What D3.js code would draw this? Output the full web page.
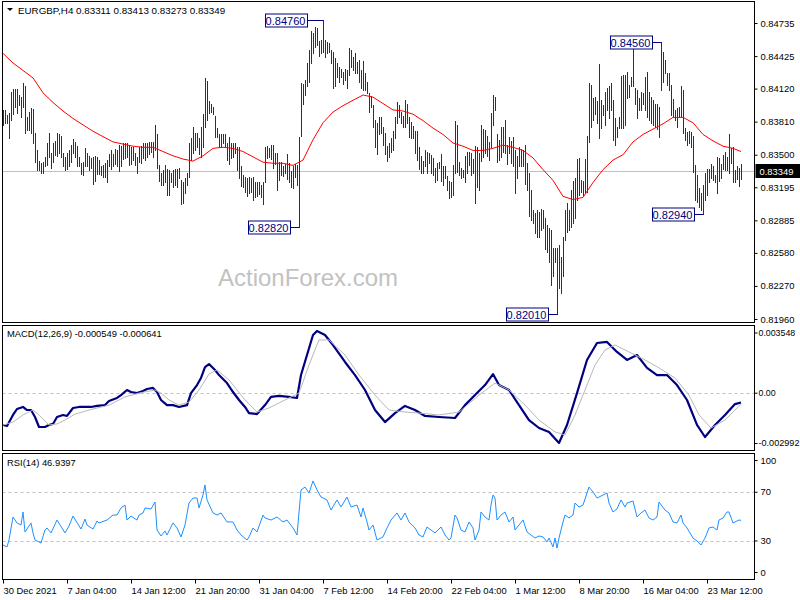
<!DOCTYPE html>
<html><head><meta charset="utf-8">
<script src="https://cdn.jsdelivr.net/npm/d3@7"></script>
<style>
body{margin:0;background:#fff;}
svg{display:block;}
text{font-family:"Liberation Sans",Arial,sans-serif;}
</style>
</head><body>
<svg id="c" width="800" height="600"></svg>
<script>
// ---------------- DATA ----------------
const symbol = "EURGBP,H4";
const lastOHLC = [0.83311, 0.83413, 0.83273, 0.83349];

const highs = [
0.8392,0.8392,0.8387,0.8389,0.8409,0.8412,0.8412,0.8412,0.8406,0.8404,
0.8417,0.8414,0.8385,0.8390,0.8394,0.8393,0.8370,0.8354,0.8344,0.8342,
0.8343,0.8348,0.8361,0.8370,0.8352,0.8361,0.8363,0.8370,0.8369,0.8368,
0.8352,0.8348,0.8352,0.8354,0.8359,0.8365,0.8362,0.8358,0.8348,0.8342,
0.8343,0.8356,0.8352,0.8349,0.8347,0.8348,0.8349,0.8348,0.8345,0.8339,
0.8340,0.8342,0.8345,0.8351,0.8354,0.8351,0.8355,0.8354,0.8359,0.8358,
0.8361,0.8361,0.8361,0.8359,0.8357,0.8357,0.8352,0.8348,0.8357,0.8358,
0.8361,0.8361,0.8361,0.8362,0.8362,0.8362,0.8378,0.8369,0.8340,0.8333,
0.8336,0.8340,0.8337,0.8336,0.8333,0.8336,0.8337,0.8337,0.8338,0.8326,
0.8324,0.8328,0.8333,0.8361,0.8366,0.8376,0.8370,0.8370,0.8366,0.8376,
0.8388,0.8422,0.8419,0.8400,0.8398,0.8395,0.8386,0.8375,0.8369,0.8369,
0.8369,0.8369,0.8361,0.8367,0.8361,0.8361,0.8361,0.8357,0.8357,0.8339,
0.8331,0.8329,0.8328,0.8329,0.8328,0.8329,0.8324,0.8324,0.8324,0.8322,
0.8324,0.8357,0.8358,0.8356,0.8359,0.8359,0.8352,0.8352,0.8343,0.8343,
0.8339,0.8341,0.8351,0.8342,0.8335,0.8339,0.8341,0.8340,0.8367,0.8417,
0.8416,0.8420,0.8436,0.8448,0.8466,0.8464,0.8470,0.8469,0.8457,0.8458,
0.8476,0.8458,0.8456,0.8455,0.8448,0.8446,0.8441,0.8436,0.8432,0.8430,
0.8428,0.8430,0.8429,0.8450,0.8448,0.8442,0.8445,0.8437,0.8439,0.8429,
0.8438,0.8427,0.8418,0.8408,0.8405,0.8397,0.8383,0.8380,0.8385,0.8385,
0.8376,0.8370,0.8358,0.8361,0.8366,0.8372,0.8385,0.8399,0.8397,0.8390,
0.8386,0.8401,0.8398,0.8385,0.8381,0.8377,0.8372,0.8372,0.8357,0.8349,
0.8344,0.8354,0.8353,0.8352,0.8350,0.8347,0.8338,0.8342,0.8343,0.8351,
0.8339,0.8339,0.8330,0.8325,0.8324,0.8340,0.8382,0.8378,0.8343,0.8338,
0.8336,0.8349,0.8353,0.8353,0.8352,0.8346,0.8358,0.8357,0.8352,0.8378,
0.8374,0.8373,0.8368,0.8362,0.8389,0.8406,0.8404,0.8369,0.8364,0.8376,
0.8376,0.8383,0.8359,0.8367,0.8363,0.8367,0.8354,0.8349,0.8357,0.8355,
0.8354,0.8359,0.8342,0.8333,0.8317,0.8298,0.8295,0.8298,0.8296,0.8299,
0.8298,0.8291,0.8284,0.8281,0.8279,0.8263,0.8263,0.8263,0.8265,0.8254,
0.8273,0.8298,0.8305,0.8298,0.8317,0.8325,0.8328,0.8346,0.8347,0.8326,
0.8325,0.8346,0.8368,0.8417,0.8415,0.8403,0.8404,0.8400,0.8435,0.8401,
0.8397,0.8409,0.8413,0.8414,0.8417,0.8401,0.8384,0.8376,0.8385,0.8424,
0.8425,0.8425,0.8428,0.8415,0.8423,0.8455,0.8413,0.8411,0.8403,0.8409,
0.8408,0.8423,0.8428,0.8409,0.8404,0.8401,0.8398,0.8398,0.8395,0.8456,
0.8446,0.8439,0.8427,0.8427,0.8415,0.8402,0.8392,0.8394,0.8395,0.8414,
0.8411,0.8375,0.8371,0.8372,0.8371,0.8368,0.8340,0.8331,0.8319,0.8314,
0.8322,0.8333,0.8337,0.8337,0.8341,0.8339,0.8331,0.8348,0.8347,0.8341,
0.8350,0.8353,0.8348,0.8369,0.8356,0.8357,0.8336,0.8339,0.8338,0.83413
];
const lows = [
0.8378,0.8380,0.8380,0.8366,0.8383,0.8388,0.8395,0.8389,0.8397,0.8385,
0.8395,0.8370,0.8373,0.8373,0.8370,0.8361,0.8343,0.8336,0.8336,0.8333,
0.8333,0.8339,0.8340,0.8348,0.8338,0.8343,0.8350,0.8349,0.8352,0.8348,
0.8339,0.8336,0.8337,0.8339,0.8343,0.8352,0.8348,0.8339,0.8339,0.8332,
0.8331,0.8339,0.8339,0.8336,0.8338,0.8323,0.8325,0.8332,0.8332,0.8331,
0.8329,0.8329,0.8324,0.8339,0.8337,0.8339,0.8341,0.8339,0.8335,0.8339,
0.8346,0.8347,0.8348,0.8340,0.8341,0.8345,0.8340,0.8333,0.8343,0.8342,
0.8347,0.8345,0.8348,0.8351,0.8353,0.8348,0.8354,0.8338,0.8325,0.8322,
0.8322,0.8324,0.8312,0.8312,0.8324,0.8320,0.8322,0.8320,0.8328,0.8304,
0.8305,0.8314,0.8322,0.8329,0.8345,0.8352,0.8354,0.8357,0.8351,0.8348,
0.8357,0.8376,0.8383,0.8389,0.8390,0.8388,0.8367,0.8367,0.8357,0.8357,
0.8361,0.8357,0.8345,0.8341,0.8347,0.8348,0.8352,0.8336,0.8328,0.8321,
0.8320,0.8315,0.8311,0.8314,0.8315,0.8308,0.8310,0.8311,0.8313,0.8310,
0.8304,0.8324,0.8347,0.8348,0.8346,0.8338,0.8341,0.8317,0.8326,0.8331,
0.8330,0.8333,0.8327,0.8324,0.8320,0.8319,0.8329,0.8322,0.8282,0.8368,
0.8398,0.8406,0.8414,0.8418,0.8436,0.8445,0.8451,0.8453,0.8443,0.8445,
0.8446,0.8442,0.8445,0.8446,0.8436,0.8413,0.8414,0.8423,0.8418,0.8423,
0.8416,0.8420,0.8413,0.8425,0.8432,0.8429,0.8427,0.8427,0.8418,0.8413,
0.8411,0.8411,0.8408,0.8390,0.8395,0.8376,0.8357,0.8351,0.8369,0.8370,
0.8359,0.8351,0.8344,0.8348,0.8353,0.8354,0.8366,0.8380,0.8385,0.8380,
0.8376,0.8376,0.8380,0.8367,0.8366,0.8366,0.8352,0.8345,0.8337,0.8333,
0.8333,0.8339,0.8333,0.8342,0.8333,0.8331,0.8324,0.8326,0.8338,0.8325,
0.8322,0.8328,0.8317,0.8309,0.8310,0.8312,0.8333,0.8334,0.8331,0.8328,
0.8329,0.8324,0.8333,0.8340,0.8331,0.8333,0.8305,0.8320,0.8317,0.8344,
0.8348,0.8352,0.8349,0.8345,0.8357,0.8378,0.8392,0.8343,0.8345,0.8348,
0.8353,0.8352,0.8341,0.8352,0.8342,0.8339,0.8314,0.8328,0.8339,0.8339,
0.8339,0.8323,0.8317,0.8293,0.8289,0.8286,0.8277,0.8273,0.8273,0.8279,
0.8281,0.8262,0.8259,0.8249,0.8228,0.8236,0.8249,0.8201,0.8225,0.8220,
0.8236,0.8270,0.8278,0.8279,0.8282,0.8286,0.8291,0.8308,0.8312,0.8315,
0.8312,0.8314,0.8315,0.8362,0.8376,0.8383,0.8388,0.8380,0.8366,0.8375,
0.8387,0.8378,0.8392,0.8384,0.8392,0.8364,0.8359,0.8367,0.8375,0.8375,
0.8375,0.8378,0.8403,0.8404,0.8414,0.8414,0.8398,0.8384,0.8392,0.8392,
0.8398,0.8392,0.8385,0.8383,0.8380,0.8378,0.8376,0.8374,0.8367,0.8411,
0.8418,0.8427,0.8415,0.8411,0.8387,0.8385,0.8383,0.8376,0.8385,0.8386,
0.8370,0.8364,0.8359,0.8361,0.8357,0.8334,0.8308,0.8306,0.8301,0.8298,
0.8294,0.8308,0.8312,0.8324,0.8328,0.8326,0.8324,0.8314,0.8325,0.8328,
0.8337,0.8336,0.8336,0.8333,0.8342,0.8324,0.8324,0.8327,0.8321,0.83273
];

const maBars = [0,5,10,15,20,25,30,35,40,45,50,55,60,65,70,75,80,85,90,95,100,105,110,115,120,125,130,135,140,145,150,155,160,165,170,175,180,185,190,195,200,205,210,215,220,225,230,235,240,245,250,255,260,265,270,275,280,285,290,295,300,305,310,315,320,325,330,335,340,345,350,355,360,365,369];
const maValues = [0.8445,0.8436,0.8429,0.8422,0.8408,0.8399,0.8391,0.8384,0.8378,0.8372,0.8367,0.8362,0.8360,0.8358,0.8357,0.8357,0.8353,0.8349,0.8346,0.8344,0.8349,0.8356,0.8357,0.8356,0.8353,0.8348,0.8343,0.8342,0.8342,0.8340,0.8345,0.8364,0.8380,0.8390,0.8396,0.8401,0.8406,0.8404,0.8398,0.8392,0.8391,0.8388,0.8382,0.8375,0.8369,0.8361,0.8358,0.8354,0.8354,0.8356,0.8359,0.8357,0.8354,0.8347,0.8336,0.8326,0.8311,0.8308,0.8310,0.8324,0.8336,0.8345,0.8350,0.8362,0.8369,0.8374,0.8379,0.8385,0.8385,0.8380,0.8369,0.8363,0.8358,0.8356,0.8353];

const macdBars = [0,2,5,7,10,12,14,16,18,21,23,25,27,30,32,35,38,42,44,47,51,53,57,59,62,64,67,70,72,75,77,79,82,85,88,92,94,97,99,101,103,106,108,112,115,118,121,123,127,131,134,138,143,147,149,152,155,157,161,165,171,176,181,186,191,196,201,206,211,218,226,231,236,241,245,248,253,258,263,268,273,278,282,287,292,297,302,307,312,317,322,327,332,337,342,347,351,356,361,366,369];
const macdValues = [-0.00187,-0.00193,-0.00128,-0.00093,-0.00081,-0.00099,-0.00099,-0.00140,-0.00199,-0.00199,-0.00187,-0.00181,-0.00140,-0.00128,-0.00134,-0.00087,-0.00081,-0.00081,-0.00081,-0.00075,-0.00070,-0.00046,-0.00028,-0.00011,0.00019,0.00007,0.00001,0.00013,0.00025,0.00031,0.00007,-0.00040,-0.00070,-0.00070,-0.00081,-0.00070,0.00001,0.00048,0.00090,0.00154,0.00172,0.00137,0.00107,0.00060,0.00007,-0.00040,-0.00081,-0.00117,-0.00123,-0.00070,-0.00022,-0.00016,-0.00022,-0.00028,0.00107,0.00225,0.00343,0.00367,0.00343,0.00284,0.00184,0.00107,0.00019,-0.00099,-0.00170,-0.00117,-0.00075,-0.00099,-0.00134,-0.00140,-0.00146,-0.00070,-0.00011,0.00048,0.00113,0.00048,0.00019,-0.00070,-0.00158,-0.00205,-0.00228,-0.00293,-0.00187,0.00001,0.00196,0.00296,0.00302,0.00243,0.00196,0.00225,0.00149,0.00107,0.00107,0.00048,-0.00040,-0.00187,-0.00258,-0.00187,-0.00128,-0.00064,-0.000549];

const signalBars = [0,5,10,15,18,23,27,31,36,43,53,61,68,76,79,83,88,93,98,103,107,113,121,127,133,143,148,153,158,163,171,178,186,193,201,208,218,228,238,246,253,261,268,276,281,286,291,296,301,306,313,321,328,336,343,348,354,361,369];
const signalValues = [-0.00187,-0.00170,-0.00128,-0.00099,-0.00128,-0.00187,-0.00181,-0.00158,-0.00123,-0.00099,-0.00070,-0.00022,0.00001,0.00019,0.00001,-0.00040,-0.00070,-0.00052,0.00019,0.00113,0.00137,0.00078,-0.00040,-0.00111,-0.00087,-0.00028,0.00001,0.00166,0.00314,0.00314,0.00225,0.00107,-0.00011,-0.00099,-0.00111,-0.00117,-0.00128,-0.00111,-0.00011,0.00060,0.00019,-0.00070,-0.00158,-0.00228,-0.00246,-0.00128,0.00019,0.00166,0.00255,0.00284,0.00243,0.00196,0.00149,0.00090,-0.00011,-0.00128,-0.00205,-0.00158,-0.000641];

const rsiBars = [0,2,3,5,7,9,10,11,14,15,16,18,19,21,22,24,27,31,33,35,39,41,42,45,47,48,52,55,57,59,61,62,64,67,68,70,71,74,76,77,79,81,82,85,87,89,91,93,95,97,98,100,101,102,105,107,109,112,115,117,119,122,123,125,127,
130,131,134,137,140,142,145,147,149,151,153,155,157,159,162,164,167,169,172,174,177,179,180,182,183,185,187,190,192,194,197,199,201,203,206,208,210,212,214,216,219,221,223,224,226,227,229,231,233,235,236,238,239,241,243,244,245,246,247,249,251,253,255,256,258,260,262,264,266,
268,270,272,273,275,276,277,278,280,281,283,285,286,288,290,292,293,295,297,299,302,303,305,307,309,311,312,315,317,319,321,323,325,327,328,331,333,335,337,339,340,342,345,347,349,351,353,355,357,358,360,362,363,365,367,368,369];
const rsiValues = [26.7,25.1,30.8,49.7,44.8,43.1,53.8,37.4,44.8,36.6,30.8,29.2,28.3,39.0,40.7,36.6,47.2,36.6,42.3,50.5,39.8,48.0,43.1,39.8,46.4,44.8,47.2,51.3,51.3,57.1,59.5,47.2,50.5,47.2,51.3,53.0,57.1,56.3,62.0,39.0,34.1,38.2,34.9,44.8,40.7,33.3,43.1,61.2,65.3,65.3,57.1,67.8,76.0,63.7,53.0,51.3,53.0,45.6,45.6,39.0,34.9,30.8,33.3,40.7,37.4,
51.3,48.9,47.2,49.7,45.6,47.2,40.7,34.9,71.9,74.3,69.4,79.3,71.9,66.1,63.7,55.4,63.7,57.9,66.1,57.9,59.5,49.7,57.1,45.6,39.0,43.1,30.8,33.3,40.7,47.2,53.0,47.2,53.0,45.6,40.7,34.9,33.3,41.5,39.0,36.6,41.5,34.9,30.8,32.4,51.3,48.9,39.0,37.4,45.6,40.7,30.8,39.0,53.8,49.7,47.2,59.5,67.8,65.3,47.2,51.3,53.8,45.6,49.7,39.0,43.1,47.2,37.4,34.9,32.4,
34.1,33.3,29.2,32.4,25.1,32.4,24.2,32.4,45.6,51.3,48.9,51.3,61.2,57.9,59.5,69.4,74.3,70.2,65.3,66.9,69.4,61.2,53.8,56.3,63.7,57.9,61.2,62.8,49.7,53.0,55.4,48.9,47.2,49.7,62.0,55.4,53.0,45.6,44.8,51.3,44.8,40.7,32.4,30.0,26.7,32.4,40.7,41.5,39.0,47.2,48.9,53.8,53.8,44.8,46.4,47.2,46.9397];

const priceTicks = [0.84735,0.84425,0.84120,0.83810,0.83500,0.83195,0.82885,0.82580,0.82270,0.81960];
const macdTicks = [0.003548, 0, -0.002992];
const macdTickLabels = ["0.003548","0.00","-0.002992"];
const rsiTicks = [100,70,30,0];
const rsiLevels = [70,30];
const timeLabelBars = [0,32,64,96,128,160,192,224,256,288,320,352];
const timeLabels = ["30 Dec 2021","7 Jan 04:00","14 Jan 12:00","21 Jan 20:00","31 Jan 04:00","7 Feb 12:00","14 Feb 20:00","22 Feb 04:00","1 Mar 12:00","8 Mar 20:00","16 Mar 04:00","23 Mar 12:00"];
const annoBars = [160,148,277,329,350];
const annoValues = [0.8476,0.8282,0.8201,0.8456,0.8294];

// ---------------- LAYOUT ----------------
const W = 800, H = 600;
const L = 2.5, R = 754.5;
const mainT = 1.5, mainB = 322.5;
const macdT = 325.5, macdB = 450.5;
const rsiT = 453.5, rsiB = 579.5;
const FS = 9.4;
const barColor = "#0e3b5c";

const svg = d3.select("#c");
svg.append("rect").attr("width",W).attr("height",H).attr("fill","#fff");

const x = d3.scaleLinear().domain([0, highs.length-1]).range([3, 741]);
const px = i => Math.round(x(i)) + 0.5;
const yP = d3.scaleLinear().domain([priceTicks[priceTicks.length-1], priceTicks[0]]).range([319, 23]);
const yM = d3.scaleLinear().domain([macdTicks[2], macdTicks[0]]).range([444, 333]);
const yR = d3.scaleLinear().domain([0,100]).range([577.5, 455.75]);

const defs = svg.append("defs");
function clip(id,t,b){ defs.append("clipPath").attr("id",id).append("rect").attr("x",L+0.5).attr("y",t+0.5).attr("width",R-L-1).attr("height",b-t-1); }
clip("cm",mainT,mainB); clip("cd",macdT,macdB); clip("cr",rsiT,rsiB);

// ---------- MAIN PANEL ----------
const gm = svg.append("g").attr("clip-path","url(#cm)");
gm.append("text").attr("x",218).attr("y",286).attr("font-size",24).attr("fill","#c2c2c2").text("ActionForex.com");
const yClose = Math.round(yP(lastOHLC[3])) + 0.5;
gm.append("line").attr("x1",L).attr("x2",R).attr("y1",yClose).attr("y2",yClose).attr("stroke","#c0c0c0").attr("stroke-width",1);
gm.selectAll("line.bar").data(highs.map((h,i)=>({i,h,l:lows[i]}))).join("line").attr("class","bar")
  .attr("x1",d=>px(d.i)).attr("x2",d=>px(d.i))
  .attr("y1",d=>Math.round(yP(d.h))).attr("y2",d=>Math.round(yP(d.l))+1)
  .attr("stroke",barColor).attr("stroke-width",1);
gm.append("path").datum(maBars.map((b,i)=>[b,maValues[i]]))
  .attr("d",d3.line().x(d=>x(d[0])).y(d=>yP(d[1])))
  .attr("fill","none").attr("stroke","#ff0000").attr("stroke-width",1);
annoBars.forEach((b,k)=>{
  const bx = px(b), by = Math.round(yP(annoValues[k]))+0.5;
  const gap = k===0 ? 17 : 10;
  const bw = 42, bh = 13;
  const rx = bx - gap;
  gm.append("line").attr("x1",rx).attr("x2",bx).attr("y1",by).attr("y2",by).attr("stroke","#000080");
  gm.append("rect").attr("x",Math.round(rx-bw)+0.5).attr("y",Math.round(by-bh/2)).attr("width",bw).attr("height",bh)
    .attr("fill","#fff").attr("stroke","#000080").attr("stroke-width",1);
  gm.append("text").attr("x",rx-bw/2).attr("y",by+4).attr("text-anchor","middle").attr("font-size",11).attr("fill","#000080")
    .text(annoValues[k].toFixed(5));
});
svg.append("path").attr("d","M7,8 L13,8 L10,11 Z").attr("fill","#000");
svg.append("text").attr("x",18).attr("y",14).attr("font-size",FS+0.4).attr("fill","#000")
  .text(symbol + "  " + lastOHLC.map(v=>v.toFixed(5)).join(" "));

// ---------- MACD PANEL ----------
const gd = svg.append("g").attr("clip-path","url(#cd)");
gd.append("line").attr("x1",L).attr("x2",R).attr("y1",Math.round(yM(0))+0.5).attr("y2",Math.round(yM(0))+0.5)
  .attr("stroke","#c0c0c0").attr("stroke-dasharray","3,3");
gd.append("path").datum(macdBars.map((b,i)=>[b,macdValues[i]]))
  .attr("d",d3.line().x(d=>x(d[0])).y(d=>yM(d[1])))
  .attr("fill","none").attr("stroke","#000080").attr("stroke-width",2.2).attr("stroke-linejoin","round");
gd.append("path").datum(signalBars.map((b,i)=>[b,signalValues[i]]))
  .attr("d",d3.line().x(d=>x(d[0])).y(d=>yM(d[1])))
  .attr("fill","none").attr("stroke","#b8b8b8").attr("stroke-width",1);
svg.append("text").attr("x",7).attr("y",337).attr("font-size",FS).attr("fill","#000")
  .text("MACD(12,26,9) " + macdValues[macdValues.length-1].toFixed(6) + " " + signalValues[signalValues.length-1].toFixed(6));

// ---------- RSI PANEL ----------
const gr = svg.append("g").attr("clip-path","url(#cr)");
rsiLevels.forEach(v=>{
  const yy = Math.round(yR(v))+0.5;
  gr.append("line").attr("x1",L).attr("x2",R).attr("y1",yy).attr("y2",yy).attr("stroke","#c0c0c0").attr("stroke-dasharray","3,3");
});
gr.append("path").datum(rsiBars.map((b,i)=>[b,rsiValues[i]]))
  .attr("d",d3.line().x(d=>x(d[0])).y(d=>yR(d[1])))
  .attr("fill","none").attr("stroke","#1e90ff").attr("stroke-width",1);
svg.append("text").attr("x",7).attr("y",466).attr("font-size",FS).attr("fill","#000")
  .text("RSI(14) " + rsiValues[rsiValues.length-1].toFixed(4));

// ---------- BORDERS ----------
[[mainT,mainB],[macdT,macdB],[rsiT,rsiB]].forEach(([t,b])=>{
  svg.append("rect").attr("x",L).attr("y",t).attr("width",R-L).attr("height",b-t)
    .attr("fill","none").attr("stroke","#000").attr("stroke-width",1);
});

// ---------- AXES ----------
function styleAxis(g){
  g.select(".domain").remove();
  g.selectAll("text").attr("font-size",FS).attr("fill","#000").attr("font-family","Liberation Sans, Arial, sans-serif");
  g.selectAll("line").attr("stroke","#000");
}
const axP = svg.append("g").attr("transform",`translate(${R},0)`)
  .call(d3.axisRight(yP).tickValues(priceTicks).tickSize(3).tickPadding(3).tickFormat(d3.format(".5f")));
styleAxis(axP);

const clampY = (y,t,b) => Math.max(t+7, Math.min(b-7, y));
const axM = svg.append("g").attr("transform",`translate(${R},0)`)
  .call(d3.axisRight(yM).tickValues(macdTicks).tickSize(3).tickPadding(1).tickFormat((d,i)=>macdTickLabels[i]));
styleAxis(axM);
axM.selectAll(".tick").attr("transform",d=>`translate(0,${clampY(yM(d),macdT,macdB)})`);
axM.selectAll("text").attr("font-size",8.8).each(function(d){
  if (d < 0) d3.select(this).attr("textLength",41).attr("lengthAdjust","spacingAndGlyphs");
});

const axR = svg.append("g").attr("transform",`translate(${R},0)`)
  .call(d3.axisRight(yR).tickValues(rsiTicks).tickSize(3).tickPadding(3).tickFormat(d3.format("d")));
styleAxis(axR);
axR.selectAll(".tick").attr("transform",d=>`translate(0,${clampY(yR(d),rsiT,rsiB)})`);

const axT = svg.append("g").attr("transform",`translate(0,${rsiB})`)
  .call(d3.axisBottom(x).tickValues(timeLabelBars).tickSize(4).tickPadding(4).tickFormat((d,i)=>timeLabels[i]));
styleAxis(axT);
axT.selectAll("text").attr("text-anchor","start").attr("x",0);

const tag = svg.append("g");
tag.append("rect").attr("x",R+1).attr("y",yClose-7.5).attr("width",W-R-1).attr("height",14).attr("fill","#000");
tag.append("text").attr("x",R+5).attr("y",yClose+3.5).attr("font-size",FS).attr("fill","#fff").text(lastOHLC[3].toFixed(5));
</script>
</body></html>
